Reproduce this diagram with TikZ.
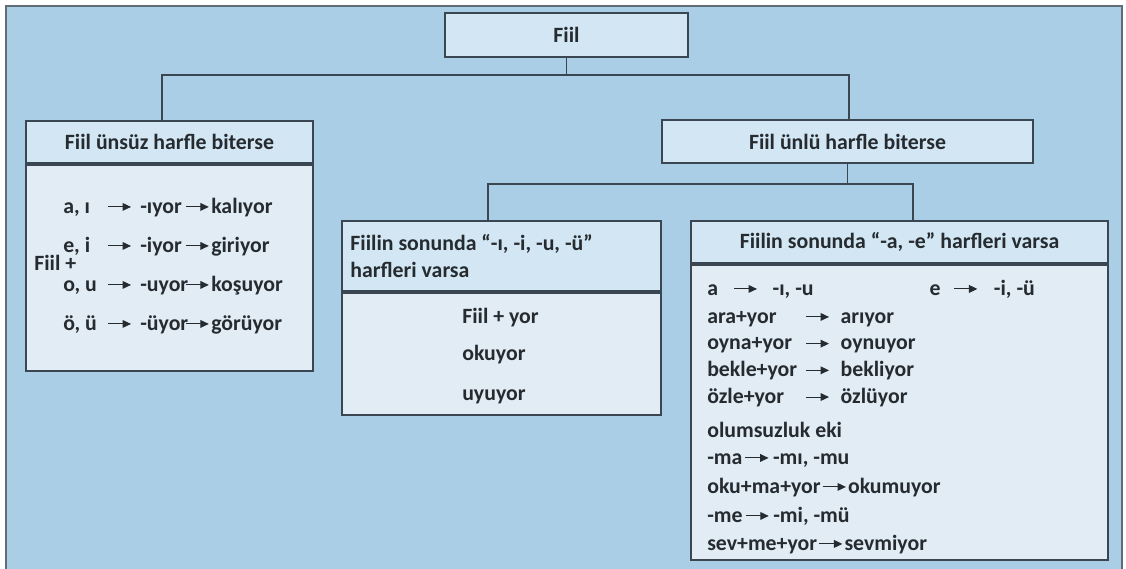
\documentclass[tikz,border=0pt]{standalone}
\usepackage{fontspec}
\setmainfont{Carlito}
\usepackage{xcolor}
\definecolor{SlideBlue}{HTML}{A9CEE6}
\definecolor{HeadBlue}{HTML}{D2E6F3}
\definecolor{BodyBlue}{HTML}{E1ECF5}
\definecolor{FrameGray}{HTML}{3A4752}
\definecolor{InkGray}{HTML}{262B30}
\usetikzlibrary{arrows.meta,positioning}

% small inline arrow used in the rule lines
\newcommand{\arr}{\tikz[baseline=-0.6ex]\draw[line width=0.7pt, InkGray, -{Triangle[length=6pt,width=5.5pt]}] (0,0) -- (0.58cm,0);}

\begin{document}
\begin{tikzpicture}[x=0.025cm, y=-0.025cm,
        box/.style={draw=FrameGray, line width=1.2pt, inner sep=0pt},
        headbox/.style={box, fill=HeadBlue, font=\bfseries\fontsize{15.5}{19.5}\selectfont, text=InkGray},
        bodybox/.style={box, fill=BodyBlue},
        txt/.style={font=\bfseries\fontsize{15.5}{18}\selectfont, text=InkGray, inner sep=0pt, anchor=west, text height=11pt, text depth=3.5pt},
        link/.style={draw=FrameGray, line width=1.2pt}
    ]
        % Light blue slide behind the chart
        \useasboundingbox (0,0) rectangle (1126,568);
        \fill[white] (0,0) rectangle (1126,568);
        \filldraw[fill=SlideBlue, draw=FrameGray!80, line width=1pt] (6,6) rectangle (1122,575);

        % Root and the two main cases
        \node[headbox, minimum width=6.075cm, minimum height=1.1cm] (fiil) at (566.5,35) {Fiil};
        \node[headbox, minimum width=7.175cm, minimum height=1.05cm] (unsuzH) at (169.5,142) {Fiil ünsüz harfle biterse};
        \node[bodybox, minimum width=7.175cm, minimum height=5.15cm, below=0pt of unsuzH] (unsuzB) {};
        \node[headbox, minimum width=9.275cm, minimum height=1.075cm] (unluH) at (847.5,141.5) {Fiil ünlü harfle biterse};

        % Sub cases of the vowel ending
        \node[headbox, minimum width=7.975cm, minimum height=1.75cm, text width=7.55cm, align=flush left] (darH) at (501.5,256) {Fiilin sonunda “-ı, -i, -u, -ü”\\harfleri varsa};
        \node[bodybox, minimum width=7.975cm, minimum height=3.05cm, below=0pt of darH] (darB) {};
        \node[headbox, minimum width=10.425cm, minimum height=1.05cm] (genisH) at (899.5,242) {Fiilin sonunda “-a, -e” harfleri varsa};
        \node[bodybox, minimum width=10.425cm, minimum height=7.375cm, below=0pt of genisH] (genisB) {};

        % Tree connectors
        \draw[link] (fiil.south) -- ++(0,17) -| ([xshift=-0.19cm]unsuzH.north);
        \draw[link] (fiil.south) -- ++(0,17) -| ([xshift=0.04cm]unluH.north);
        \draw[link] (unluH.south) -- ++(0,20) -| ([xshift=-0.33cm]darH.north);
        \draw[link] (unluH.south) -- ++(0,20) -| ([xshift=0.34cm]genisH.north);

        % Consonant ending rules
        \node[txt] (plus) at (34,265) {Fiil +};
        \foreach \kok/\ek/\ornek [count=\i] in {{a, ı}/-ıyor/kalıyor, {e, i}/-iyor/giriyor, {o, u}/-uyor/koşuyor, {ö, ü}/-üyor/görüyor} {
            \node[txt] (unsuz\i) at (63,{208+39*(\i-1)}) {\makebox[1.1cm][l]{\kok}\arr\hspace{0.22cm}\makebox[1.12cm][l]{\ek}\arr\hspace{0.05cm}\ornek};
        }

        % Narrow vowel rules
        \node[txt] (darYor) at (462,318) {Fiil + yor};
        \node[txt] (darOku) at (462,355) {okuyor};
        \node[txt] (darUyu) at (462,395) {uyuyor};

        % Wide vowel rules
        \node[txt] (genisAE) at (707,290) {\makebox[0.65cm][l]{a}\arr\hspace{0.38cm}\makebox[3.925cm][l]{-ı, -u}\makebox[0.6cm][l]{e}\arr\hspace{0.4cm}-i, -ü};
        \foreach \kok/\sonuc [count=\i] in {ara+yor/arıyor, oyna+yor/oynuyor, bekle+yor/bekliyor, özle+yor/özlüyor} {
            \node[txt] (genis\i) at (707,{318+26.7*(\i-1)}) {\makebox[2.45cm][l]{\kok}\arr\hspace{0.28cm}\sonuc};
        }
        \node[txt] (olumsuz) at (707,432) {olumsuzluk eki};
        \node[txt] (ma) at (707,459) {-ma\hspace{0.06cm}\arr\hspace{0.1cm}-mı, -mu};
        \node[txt] (okuma) at (707,488) {oku+ma+yor\hspace{0.04cm}\arr\hspace{0.04cm}okumuyor};
        \node[txt] (me) at (707,517) {-me\hspace{0.06cm}\arr\hspace{0.1cm}-mi, -mü};
        \node[txt] (sevme) at (707,545) {sev+me+yor\hspace{0.04cm}\arr\hspace{0.04cm}sevmiyor};
    \end{tikzpicture}
\end{document}
